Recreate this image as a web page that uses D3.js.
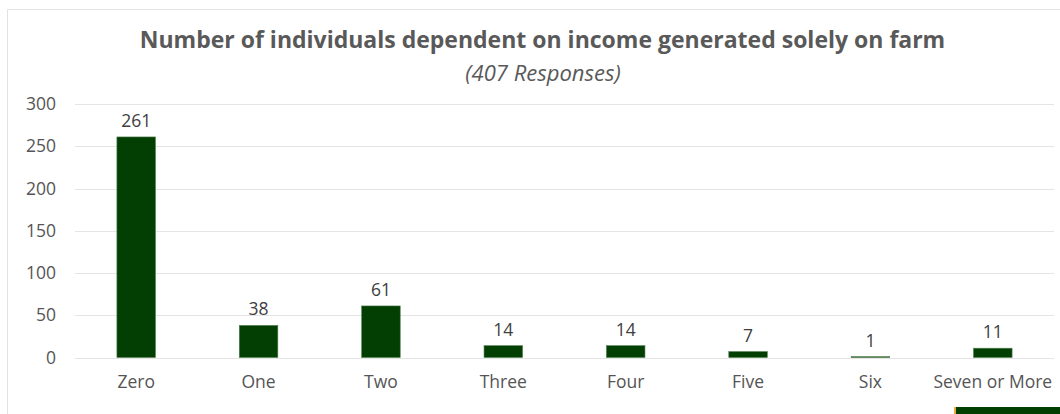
<!DOCTYPE html>
<html>
<head>
<meta charset="utf-8">
<script src="https://cdn.jsdelivr.net/npm/d3@7"></script>
<style>
  html, body { margin: 0; padding: 0; background: #ffffff; }
  svg { display: block; }
  text { font-family: "Open Sans", "Noto Sans", sans-serif; fill: #595959; }
</style>
</head>
<body>
<svg id="chart" width="1060" height="414"></svg>
<script>
// Households by number of people relying only on farm income
const categories = ["Zero", "One", "Two", "Three", "Four", "Five", "Six", "Seven or More"];
const counts = [261, 38, 61, 14, 14, 7, 1, 11];
const yTicks = [0, 50, 100, 150, 200, 250, 300];
const titleText = "Number of individuals dependent on income generated solely on farm";
const subtitleText = "(407 Responses)";

const W = 1060, H = 414;
const plot = { left: 75, right: 1054, top: 104, bottom: 357.5 };
const labelSize = 17.5;

const svg = d3.select("#chart");

// outer frame (top and left edges visible)
svg.append("path")
  .attr("d", `M7.5,${H} V9.5 H${W}`)
  .attr("fill", "none")
  .attr("stroke", "#e3e3e3")
  .attr("stroke-width", 1);

const x = d3.scaleBand()
  .domain(categories)
  .range([plot.left, plot.right])
  .paddingInner(0.685)
  .paddingOuter(0.3425);

const y = d3.scaleLinear()
  .domain([0, 300])
  .range([plot.bottom, plot.top]);

// gridlines
svg.append("g")
  .selectAll("line")
  .data(yTicks)
  .join("line")
  .attr("x1", plot.left)
  .attr("x2", plot.right)
  .attr("y1", d => Math.round(y(d)) + 0.5)
  .attr("y2", d => Math.round(y(d)) + 0.5)
  .attr("stroke", "#e4e4e4")
  .attr("stroke-width", 1);

// y axis labels
const yAxis = svg.append("g")
  .attr("transform", `translate(${plot.left},0)`)
  .call(d3.axisLeft(y).tickValues(yTicks).tickSize(0).tickPadding(19));
yAxis.select(".domain").remove();
yAxis.attr("font-family", null).attr("font-size", null);
yAxis.selectAll("text")
  .attr("font-size", labelSize)
  .style("fill", "#555555");

// x axis labels
const xAxis = svg.append("g")
  .attr("transform", `translate(0,${plot.bottom})`)
  .call(d3.axisBottom(x).tickSize(0).tickPadding(18));
xAxis.select(".domain").remove();
xAxis.attr("font-family", null).attr("font-size", null);
xAxis.selectAll("text")
  .attr("font-size", labelSize)
  .style("fill", "#555555");

// bars
svg.append("g")
  .selectAll("rect")
  .data(counts)
  .join("rect")
  .attr("x", (d, i) => x(categories[i]))
  .attr("width", x.bandwidth())
  .attr("y", d => y(d))
  .attr("height", d => y(0) - y(d))
  .attr("fill", "#033f03")
  .attr("stroke", "#4f7f4f")
  .attr("stroke-width", 0.6);

// value labels
svg.append("g")
  .selectAll("text")
  .data(counts)
  .join("text")
  .attr("x", (d, i) => x(categories[i]) + x.bandwidth() / 2)
  .attr("y", d => y(d) - 10)
  .attr("text-anchor", "middle")
  .attr("font-size", labelSize)
  .style("fill", "#404040")
  .text(d => d);

// title
svg.append("text")
  .attr("x", 542.5)
  .attr("y", 48)
  .attr("text-anchor", "middle")
  .attr("font-size", 23)
  .attr("font-weight", "bold")
  .text(titleText);

svg.append("text")
  .attr("x", 543)
  .attr("y", 81)
  .attr("text-anchor", "middle")
  .attr("font-size", 22)
  .attr("font-style", "italic")
  .text(subtitleText);

// corner tab at the bottom right
svg.append("rect")
  .attr("x", 954).attr("y", 407).attr("width", 3).attr("height", H - 407)
  .attr("fill", "#f2a93b");
svg.append("rect")
  .attr("x", 956).attr("y", 407).attr("width", W - 956).attr("height", H - 407)
  .attr("fill", "#003f00");
</script>
</body>
</html>
